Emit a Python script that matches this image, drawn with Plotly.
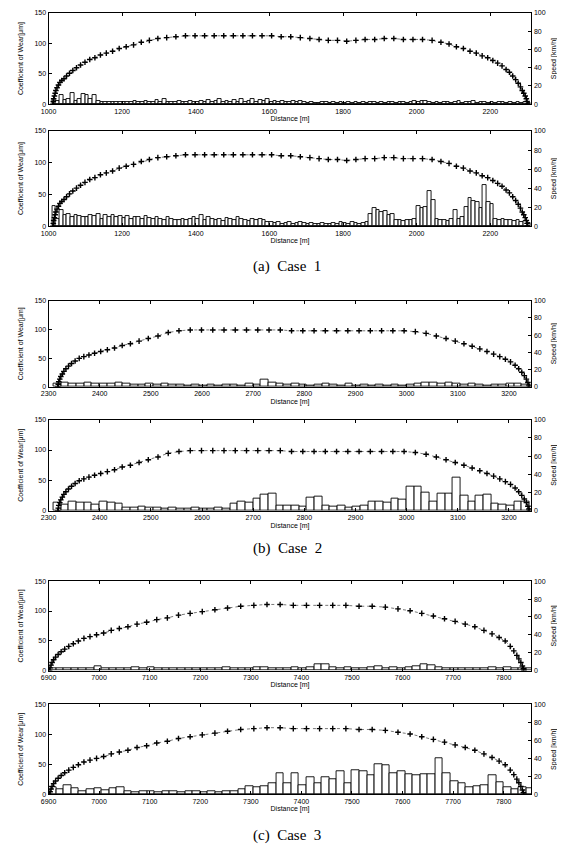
import numpy as np
import plotly.graph_objects as go

# ---------------- data ----------------
# Case 1 speed profile (distance m, speed km/h)
c1_dist = [1012, 1013, 1014, 1016, 1018, 1020, 1023, 1027, 1031, 1036, 1042, 1049, 1057, 1066, 1076, 1087, 1099,
           1112, 1126, 1141, 1157, 1174, 1192, 1211, 1231, 1252, 1274, 1297, 1321, 1346, 1372, 1398, 1424, 1450,
           1476, 1502, 1528, 1554, 1580, 1606, 1632, 1658, 1684, 1710, 1735, 1760, 1785, 1810, 1835, 1860, 1886,
           1912, 1938, 1964, 1990, 2016, 2042, 2066, 2088, 2108, 2127, 2145, 2162, 2178, 2193, 2207, 2220, 2232,
           2243, 2252, 2261, 2269, 2276, 2282, 2287, 2291, 2295, 2298, 2300, 2302]
c1_speed = [0, 3, 6, 9, 12, 15, 18, 21, 24, 26, 28, 31, 34, 37, 40, 43, 46, 49, 51, 54, 56, 58, 61, 63, 65, 68, 70,
            72, 73, 74, 75, 75, 75, 75, 75, 75, 75, 75, 75, 75, 74, 74, 73, 72, 71, 70, 70, 69, 70, 71, 71, 72, 72,
            71, 71, 71, 70, 68, 66, 63, 61, 58, 56, 53, 51, 48, 45, 42, 38, 35, 31, 27, 23, 19, 15, 12, 9, 6, 3, 0]

c2_dist = [2318, 2319, 2320, 2322, 2324, 2327, 2330, 2334, 2339, 2345, 2352, 2360, 2369, 2379, 2390, 2402, 2415,
           2429, 2444, 2460, 2477, 2495, 2514, 2534, 2555, 2577, 2599, 2621, 2643, 2665, 2687, 2709, 2731, 2753,
           2775, 2797, 2819, 2841, 2863, 2885, 2907, 2929, 2951, 2973, 2995, 3017, 3038, 3058, 3077, 3095, 3112,
           3128, 3143, 3157, 3170, 3182, 3193, 3203, 3212, 3219, 3225, 3230, 3234, 3237, 3239, 3240]
c2_speed = [0, 3, 6, 9, 12, 15, 18, 21, 24, 27, 30, 33, 35, 37, 39, 41, 43, 45, 48, 50, 53, 56, 59, 63, 65, 66, 66,
            66, 66, 66, 66, 66, 66, 66, 65, 65, 65, 65, 65, 65, 65, 65, 65, 65, 65, 64, 62, 59, 56, 53, 50, 47, 44,
            41, 38, 35, 32, 29, 25, 21, 17, 13, 9, 5, 2, 0]

c3_dist = [6902, 6903, 6905, 6907, 6910, 6914, 6919, 6925, 6932, 6940, 6949, 6959, 6970, 6982, 6995, 7009, 7024,
           7040, 7057, 7075, 7094, 7114, 7135, 7157, 7180, 7204, 7229, 7254, 7280, 7306, 7332, 7358, 7384, 7410,
           7436, 7462, 7488, 7514, 7540, 7566, 7591, 7615, 7638, 7661, 7683, 7704, 7724, 7743, 7761, 7777, 7791,
           7803, 7813, 7820, 7826, 7830, 7834, 7837, 7839, 7840]
c3_speed = [0, 3, 6, 9, 12, 15, 18, 21, 24, 27, 30, 33, 36, 38, 40, 42, 45, 47, 49, 52, 54, 57, 59, 62, 64, 66, 68,
            70, 72, 73, 74, 74, 73, 73, 73, 73, 73, 72, 72, 71, 69, 67, 64, 61, 58, 55, 52, 49, 45, 41, 37, 33, 27,
            22, 17, 13, 9, 5, 2, 0]

# Wear coefficients per distance bin
c1_top = [8, 6, 15, 7, 9, 18, 6, 8, 17, 16, 9, 15,
          5, 4, 3, 4, 3, 4, 3,
          3, 4, 3, 5, 4, 3, 6, 3, 4, 7,
          3, 8, 3, 4, 3, 5, 3, 4, 6, 3,
          4, 6, 3, 7, 4, 5, 8, 3, 6, 4,
          7, 4, 8, 3, 6, 9, 4, 7, 5, 8,
          4, 6, 3, 5, 3, 4, 6, 3, 5, 3,
          2, 3, 2, 2, 3, 4, 2, 3, 2, 3,
          2, 3, 2, 4, 2, 3, 2, 3, 4, 2,
          3, 2, 4, 3, 2, 3, 4, 2, 3, 5,
          4, 6, 5, 3, 2, 3, 2, 3, 4, 2,
          3, 5, 2, 4, 3, 6, 2, 3, 4, 2,
          3, 2, 4, 3, 2, 3, 2, 4, 2, 3,
          2]
c1_bot = [32, 12, 25, 18, 20, 15, 18, 16, 14,
          15, 18, 16, 20, 12, 17, 15, 18, 14, 16,
          13, 16, 12, 15, 14, 11, 16, 13, 12, 14,
          12, 10, 14, 11, 9, 10, 12, 9, 11, 15,
          12, 18, 10, 14, 12, 9, 11, 8, 13, 12,
          9, 14, 11, 10, 8, 12, 9, 11, 10, 7,
          6, 5, 7, 4, 5, 6, 4, 5, 7, 5,
          4, 5, 3, 4, 5, 3, 4, 5, 4, 6,
          5, 4, 6, 5, 4, 5, 6, 20, 28, 25,
          22, 24, 18, 20, 9, 10, 8, 9, 10, 11,
          32, 28, 30, 55, 42, 12, 9, 10, 8, 11,
          25, 12, 15, 30, 45, 40, 38, 28, 65, 38,
          35, 12, 10, 11, 9, 10, 8, 9, 7, 8,
          5]
c2_top = [6, 7, 6, 5, 7, 6, 5, 6, 7, 5,
          4, 4, 5, 4, 6, 4, 4, 3, 4, 3,
          4, 3, 4, 4, 3, 5, 4, 12, 8, 5,
          4, 5, 4, 3, 4, 5, 4, 3, 5, 3,
          4, 3, 4, 3, 4, 3, 4, 5, 7, 8,
          6, 7, 5, 4, 5, 4, 3, 4, 4, 5,
          6, 4]
c2_bot = [14, 10, 15, 13, 14, 11, 15, 14, 12, 6,
          5, 7, 6, 5, 4, 5, 4, 4, 5, 4,
          4, 5, 4, 12, 16, 13, 20, 27, 28, 9,
          8, 9, 7, 22, 23, 8, 7, 8, 6, 7,
          9, 15, 16, 14, 20, 18, 40, 40, 30, 15,
          28, 28, 55, 25, 16, 25, 26, 12, 10, 9,
          15, 16]
c3_top = [4, 4, 3, 4, 3, 4, 8, 4, 3, 4,
          3, 5, 4, 5, 4, 3, 4, 3, 4, 3,
          4, 3, 4, 5, 4, 3, 4, 6, 5, 4,
          3, 4, 5, 4, 6, 11, 10, 5, 4, 5,
          3, 4, 5, 8, 4, 5, 4, 6, 8, 10,
          9, 5, 4, 3, 4, 3, 3, 4, 5, 4,
          5, 4, 3, 4]
c3_bot = [12, 8, 16, 10, 6, 8, 10, 7, 10, 12,
          5, 4, 6, 5, 4, 5, 5, 4, 5, 6,
          4, 5, 4, 5, 6, 8, 14, 12, 14, 18,
          35, 18, 35, 15, 28, 18, 28, 25, 38, 18,
          40, 38, 32, 50, 48, 35, 38, 33, 32, 33,
          33, 60, 35, 22, 18, 12, 14, 16, 32, 20,
          12, 8, 12, 10]

x_ticks_c1 = [1000, 1200, 1400, 1600, 1800, 2000, 2200]
x_ticks_c2 = [2300, 2400, 2500, 2600, 2700, 2800, 2900, 3000, 3100, 3200]
x_ticks_c3 = [6900, 7000, 7100, 7200, 7300, 7400, 7500, 7600, 7700, 7800]
wear_ticks = [0, 50, 100, 150]
speed_ticks = [0, 20, 40, 60, 80, 100]
captions = ["(a)  Case  1", "(b)  Case  2", "(c)  Case  3"]

# ---------------- layout geometry ----------------
# page body has an 8px default margin; work in page pixels and convert
OFF = 8
W, H = 565 - OFF, 854 - OFF
XL, XR = 41 - OFF, 531 - OFF
panels = [  # (top px, bottom px) in page coordinates
    (9, 101), (128, 224), (299, 386), (419, 511), (582, 672), (706, 797)
]
cases = [
    dict(bars=c1_top, start=1010, w=10, dist=c1_dist, spd=c1_speed, rng=[1000, 2312], ticks=x_ticks_c1),
    dict(bars=c1_bot, start=1010, w=10, dist=c1_dist, spd=c1_speed, rng=[1000, 2312], ticks=x_ticks_c1),
    dict(bars=c2_top, start=2310, w=15, dist=c2_dist, spd=c2_speed, rng=[2300, 3244], ticks=x_ticks_c2),
    dict(bars=c2_bot, start=2310, w=15, dist=c2_dist, spd=c2_speed, rng=[2300, 3244], ticks=x_ticks_c2),
    dict(bars=c3_top, start=6900, w=15, dist=c3_dist, spd=c3_speed, rng=[6900, 7855], ticks=x_ticks_c3),
    dict(bars=c3_bot, start=6900, w=15, dist=c3_dist, spd=c3_speed, rng=[6900, 7855], ticks=x_ticks_c3),
]

FONT = "Liberation Sans Narrow, Arial Narrow, Liberation Sans, Arial"
fig = go.Figure()
layout = dict(width=W, height=H, margin=dict(l=0, r=0, t=0, b=0),
              paper_bgcolor="white", plot_bgcolor="white", showlegend=False,
              font=dict(family=FONT, size=7, color="black"))

for i, c in enumerate(cases):
    n = i + 1
    xa = "x" if n == 1 else f"x{n}"
    y1 = f"y{2*n-1}" if n > 1 else "y"
    y2 = f"y{2*n}"
    centers = c["start"] + c["w"] * (np.arange(len(c["bars"])) + 0.5)
    fig.add_trace(go.Bar(x=centers, y=c["bars"], width=c["w"], xaxis=xa, yaxis=y1,
                         marker=dict(color="white", line=dict(color="black", width=0.9))))
    fig.add_trace(go.Scatter(x=c["dist"], y=c["spd"], xaxis=xa, yaxis=y2, mode="lines+markers",
                             line=dict(color="#555555", width=0.8, dash="dot"),
                             marker=dict(symbol="cross-thin", size=4, color="black",
                                         line=dict(color="black", width=1.4))))
    top, bot = panels[i]
    top -= OFF
    bot -= OFF
    dom_y = [1 - bot / H, 1 - top / H]
    dom_x = [XL / W, XR / W]
    xkey = "xaxis" if n == 1 else f"xaxis{n}"
    y1key = "yaxis" if n == 1 else f"yaxis{2*n-1}"
    y2key = f"yaxis{2*n}"
    layout[xkey] = dict(domain=dom_x, anchor=y1, range=c["rng"], tickvals=c["ticks"],
                        ticks="inside", ticklen=3, tickcolor="black", showline=True, linecolor="black",
                        linewidth=1, mirror="ticks", showgrid=False, zeroline=False,
                        tickfont=dict(size=7, family=FONT, color="black"),
                        title=dict(text="Distance [m]", font=dict(size=7, family=FONT), standoff=2))
    layout[y1key] = dict(domain=dom_y, anchor=xa, range=[0, 150], tickvals=wear_ticks,
                         ticks="inside", ticklen=3, tickcolor="black", showline=True, linecolor="black",
                         linewidth=1, showgrid=False, zeroline=False,
                         tickfont=dict(size=7, family=FONT, color="black"),
                         title=dict(text="Coefficient of Wear[\u03bcm]", font=dict(size=7, family=FONT),
                                    standoff=9))
    layout[y2key] = dict(domain=dom_y, anchor=xa, overlaying=y1, side="right", range=[0, 100],
                         tickvals=speed_ticks, ticks="inside", ticklen=3, tickcolor="black",
                         showline=True, linecolor="black", linewidth=1, showgrid=False, zeroline=False,
                         tickfont=dict(size=7, family=FONT, color="black"),
                         title=dict(text="Speed [km/h]", font=dict(size=7, family=FONT), standoff=6))

cap_y = [265, 549, 838]
layout["annotations"] = [
    dict(text=t, x=(283 - OFF) / W, y=1 - (yy - OFF) / H, xref="paper", yref="paper", showarrow=False,
         xanchor="center", yanchor="middle",
         font=dict(family="Liberation Serif, Times New Roman, serif", size=15, color="black"))
    for t, yy in zip(captions, cap_y)
]
layout["bargap"] = 0
fig.update_layout(**layout)
fig.write_html("out.html")
